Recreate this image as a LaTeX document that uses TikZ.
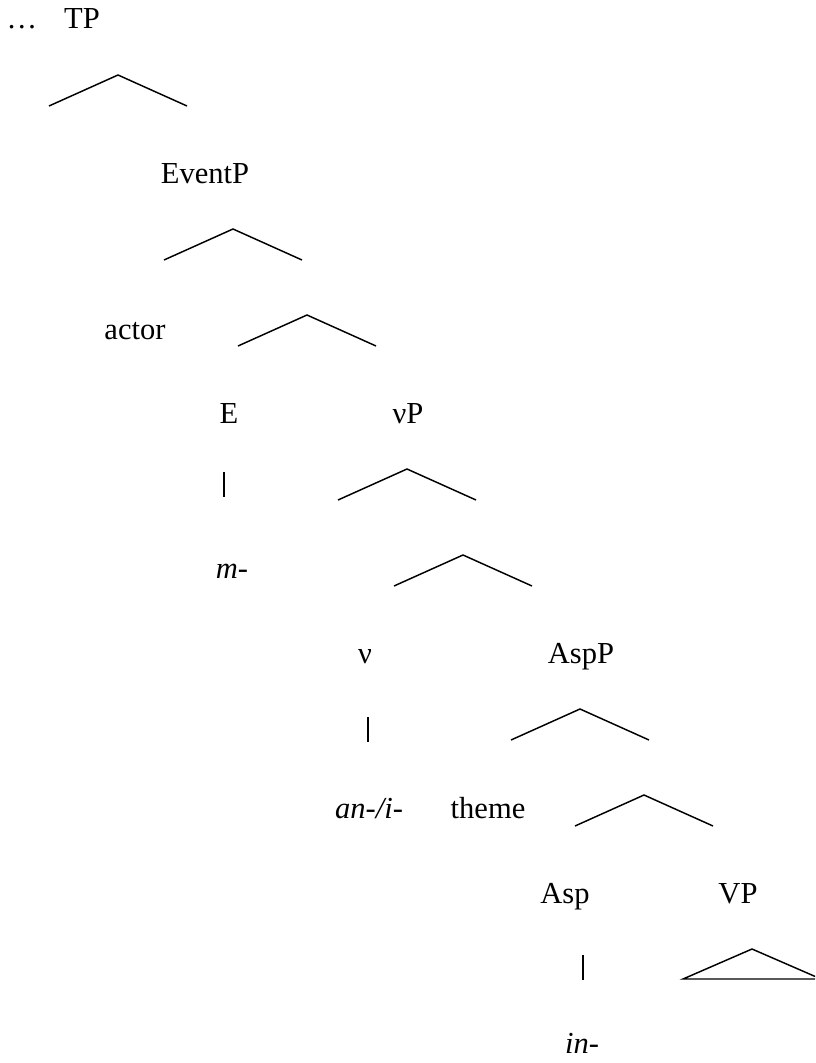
\documentclass[tikz,border=0pt]{standalone}
\usepackage{fontspec}
\setmainfont{Liberation Serif}
\usepackage{tikz}

\tikzset{lbl/.style={anchor=base,inner sep=0pt,font=\fontsize{22.9}{27}\selectfont},
  branch/.style={black,line width=1.1pt},
  stem/.style={black,line width=1.3pt}}

\begin{document}
\begin{tikzpicture}[x=0.75pt,y=-0.75pt]
\useasboundingbox (0,0) rectangle (815,1063);
\clip (0,0) rectangle (815,1063);

\node[lbl] (dots) at (22,29) {\dots};
\node[lbl] (tp) at (82,29) {TP};
\node[lbl] (eventp) at (205,183) {EventP};
\node[lbl] (actor) at (135,339) {actor};
\node[lbl] (e) at (229,423) {E};
\node[lbl] (vp) at (408,423) {νP};
\node[lbl] (m) at (232,578) {\itshape m-};
\node[lbl] (v) at (365,663) {ν};
\node[lbl] (aspp) at (581,663) {AspP};
\node[lbl] (anI) at (369,818) {\itshape an-/i-};
\node[lbl] (theme) at (488,818) {theme};
\node[lbl] (asp) at (565,903) {Asp};
\node[lbl] (VP) at (738,903) {VP};
\node[lbl] (in) at (582,1053) {\itshape in-};

\coordinate (b1) at (118,75);
\coordinate (b2) at (233,229);
\coordinate (b3) at (307,315);
\coordinate (b4) at (407,469);
\coordinate (b5) at (463,555);
\coordinate (b6) at (580,709);
\coordinate (b7) at (644,795);
\coordinate (t1) at (752,949);

\draw[branch] (b1) ++(-69,31) -- (b1) -- ++(69,31);
\draw[branch] (b2) ++(-69,31) -- (b2) -- ++(69,31);
\draw[branch] (b3) ++(-69,31) -- (b3) -- ++(69,31);
\draw[branch] (b4) ++(-69,31) -- (b4) -- ++(69,31);
\draw[branch] (b5) ++(-69,31) -- (b5) -- ++(69,31);
\draw[branch] (b6) ++(-69,31) -- (b6) -- ++(69,31);
\draw[branch] (b7) ++(-69,31) -- (b7) -- ++(69,31);
\draw[branch] (t1) ++(-69,30) -- (t1) -- ++(69,30) -- cycle;

\draw[stem] (224,472) -- (224,497);
\draw[stem] (368,717) -- (368,742);
\draw[stem] (583,955) -- (583,980);

\end{tikzpicture}
\end{document}
